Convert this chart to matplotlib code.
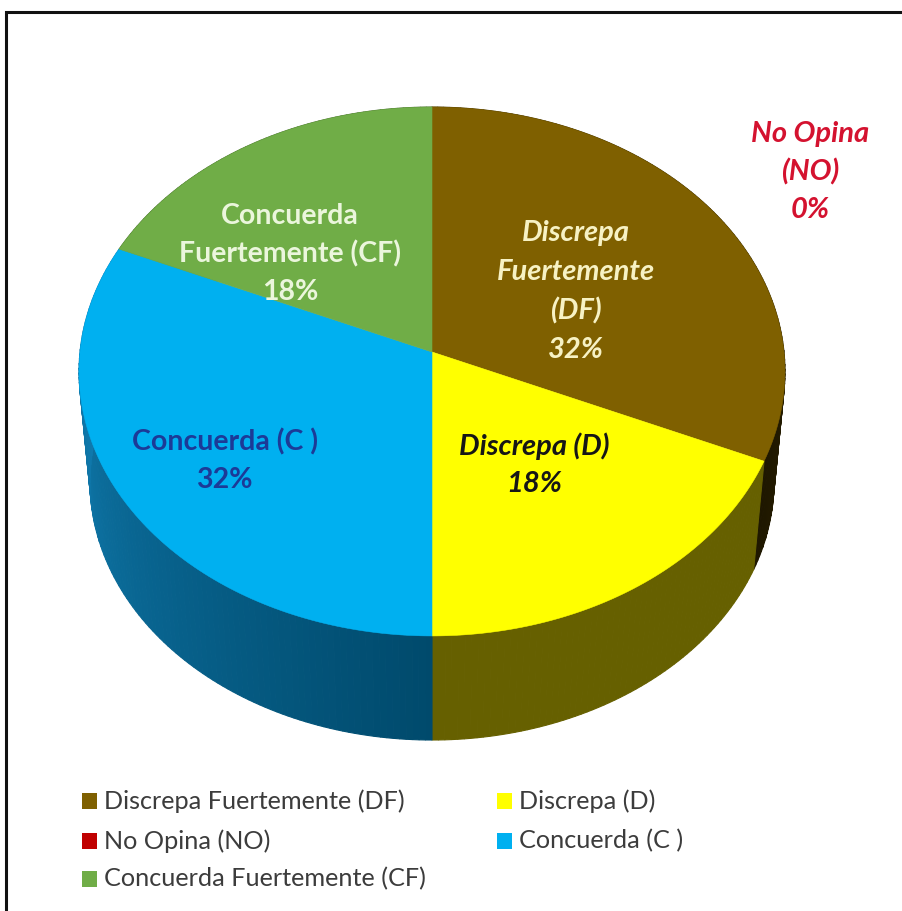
import numpy as np
import matplotlib
matplotlib.use("Agg")
import matplotlib.pyplot as plt
from matplotlib.colors import to_rgb
from matplotlib.patches import Rectangle

# ---- data ----
categories = ["Discrepa Fuertemente (DF)", "Discrepa (D)", "No Opina (NO)", "Concuerda (C )", "Concuerda Fuertemente (CF)"]
values = [31.6, 18.4, 0, 31.6, 18.4]   # shown rounded in the labels

# ---- style ----
top_colors = ["#7f6000", "#ffff00", "#c00000", "#00b0f0", "#70ad47"]
wall_left = ["#4a3800", "#666000", "#700000", "#004a6c", "#44692b"]   # colour at the clockwise start
wall_right = ["#1e1700", "#666000", "#700000", "#1384bb", "#44692b"]  # colour at the clockwise end

FONT = ["Lato", "Open Sans", "DejaVu Sans"]
W, H = 903, 911
fig = plt.figure(figsize=(W / 100, H / 100), dpi=100, facecolor="white")
ax = fig.add_axes([0, 0, 1, 1])
ax.set_xlim(0, W)
ax.set_ylim(H, 0)
ax.axis("off")

K = 0.0737
CX = 432


def project(theta, a, b, apex_y):
    """Clockwise angle from 12 o'clock on the disc -> picture pixels (perspective)."""
    u, v = np.sin(theta), np.cos(theta)
    w = 1 + K * v
    return CX + a * u / w, apex_y - b * v / w


def top(t):
    return project(t, 352, 263, 352)


def bottom(t):
    return project(t, 341, 256.6, 463)


fractions = np.array(values, float) / sum(values)
edges = np.concatenate([[0], np.cumsum(fractions)]) * 2 * np.pi

# walls
for i in range(len(values)):
    a0, a1 = edges[i], edges[i + 1]
    if a1 - a0 <= 0:
        continue
    n = max(int(np.degrees(a1 - a0)), 2)
    ts = np.linspace(a0, a1, n + 1)
    c0, c1 = np.array(to_rgb(wall_left[i])), np.array(to_rgb(wall_right[i]))
    for j in range(n):
        s = (j + 0.5) / n
        col = c0 + (c1 - c0) * s
        t = ts[j:j + 2]
        xt, yt = top(t)
        xb, yb = bottom(t)
        ax.fill(np.r_[xt, xb[::-1]], np.r_[yt, yb[::-1]], color=col, lw=0.8, zorder=2)

# top face
for i in range(len(values)):
    a0, a1 = edges[i], edges[i + 1]
    if a1 - a0 <= 0:
        continue
    ts = np.linspace(a0, a1, 200)
    x, y = top(ts)
    ax.fill(np.r_[CX, x], np.r_[352, y], color=top_colors[i], lw=0.4, zorder=3)

# data labels
def lab(x, y, lines, color, style="normal", size=20.5, step=39):
    for k, s in enumerate(lines):
        ax.text(x, y + k * step, s, ha="center", va="center", color=color, fontsize=size,
                fontweight="bold", fontstyle=style, family=FONT, zorder=5)


pct = [f"{v:.0f}%" for v in values]
lab(576, 233, ["Discrepa", "Fuertemente", "(DF)", pct[0]], "#f7f2c4", "italic", size=21, step=39)
lab(534, 446, ["Discrepa (D)"], "#161616", "italic", size=21)
lab(534, 484, [pct[1]], "#161616", "italic", size=21)
lab(810, 134, ["No Opina", "(NO)", pct[2]], "#d4122f", "italic", size=21, step=38)
lab(225, 442, ["Concuerda (C )"], "#1c3a97")
lab(224, 480, [pct[3]], "#1c3a97")
lab(290, 216, ["Concuerda", "Fuertemente (CF)", pct[4]], "#ebf6dc", step=38)

# legend
legend_pos = [(82, 801), (497, 801), (82, 841), (497, 841), (82, 879)]
for (lx, ly), name, col in zip(legend_pos, categories, top_colors):
    ax.add_patch(Rectangle((lx, ly - 8), 15, 16, fc=col, ec="none", zorder=4))
    ax.text(lx + 22, ly, name, ha="left", va="center", fontsize=18.2, color="#3c3c3c", family=FONT, zorder=5)

# picture frame: only left and top edges fall inside the crop
ax.plot([6, 6, W], [H, 12, 12], color="#111111", lw=2.2, solid_joinstyle="miter", zorder=6)

fig.savefig("out.png", dpi=100, facecolor="white")
